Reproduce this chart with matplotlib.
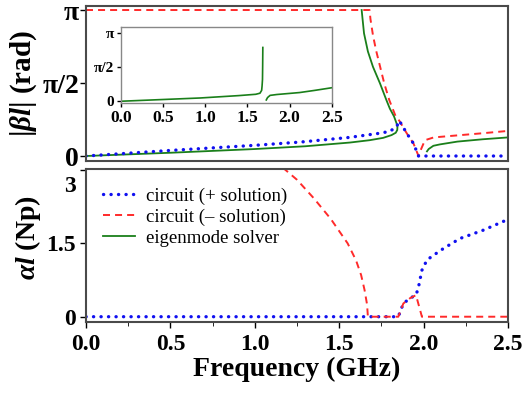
import numpy as np
import matplotlib
matplotlib.use("Agg")
import matplotlib.pyplot as plt
from matplotlib.transforms import ScaledTranslation

# ---- data ----
# top panel |beta l| (rad) vs frequency (GHz)
blue_top_f = [0.0, 0.5, 1.0, 1.27, 1.56, 1.74, 1.80, 1.84, 1.856, 1.90, 1.94, 1.97, 2.5]
blue_top_b = [0.0, 0.12, 0.23, 0.30, 0.40, 0.49, 0.53, 0.63, 0.76, 0.49, 0.27, 0.0, 0.0]

red_top_f = [0.0, 1.68, 1.685, 1.70, 1.718, 1.767, 1.797, 1.835, 1.856, 1.90, 1.94, 1.97,
             1.983, 2.008, 2.06, 2.22, 2.35, 2.5]
red_top_b = [np.pi, np.pi, 2.95, 2.6, 2.28, 1.56, 1.2, 0.85, 0.76, 0.49, 0.27, 0.0,
             0.13, 0.34, 0.40, 0.45, 0.49, 0.54]

green_f1 = [0.0, 0.5, 1.0, 1.3, 1.564, 1.68, 1.76, 1.81, 1.835, 1.844, 1.845, 1.84,
            1.825, 1.80, 1.78, 1.742, 1.70, 1.67, 1.647, 1.633]
green_b1 = [0.0, 0.07, 0.15, 0.21, 0.29, 0.34, 0.39, 0.45, 0.50, 0.56, 0.63, 0.70,
            0.85, 1.02, 1.2, 1.56, 1.92, 2.25, 2.64, np.pi]
green_f2 = [2.02, 2.03, 2.058, 2.097, 2.2, 2.35, 2.5]
green_b2 = [0.10, 0.15, 0.22, 0.25, 0.31, 0.36, 0.40]

# inset (eigenmode solver)
inset_f1 = [0.0, 0.5, 0.94, 1.4, 1.6, 1.65, 1.67, 1.675, 1.68, 1.682, 1.684]
inset_b1 = [0.0, 0.08, 0.15, 0.26, 0.32, 0.37, 0.5, 0.7, 1.0, 1.6, 2.47]
inset_f2 = [1.725, 1.74, 1.77, 1.85, 2.0, 2.12, 2.3, 2.5]
inset_b2 = [0.06, 0.17, 0.27, 0.31, 0.36, 0.40, 0.50, 0.62]

# bottom panel alpha l (Np)
blue_bot_f = [0.0, 1.85, 1.88, 1.92, 1.955, 1.97, 1.99, 2.02, 2.06, 2.12, 2.216, 2.354, 2.5]
blue_bot_a = [0.0, 0.0, 0.27, 0.38, 0.44, 0.61, 0.95, 1.16, 1.26, 1.40, 1.60, 1.77, 1.99]
red_bot_f = [1.165, 1.25, 1.35, 1.45, 1.55, 1.60, 1.63, 1.65, 1.665, 1.67, 1.85, 1.88,
             1.92, 1.955, 1.99, 2.5]
red_bot_a = [3.05, 2.80, 2.42, 2.0, 1.5, 1.15, 0.85, 0.55, 0.25, 0.0, 0.0, 0.27,
             0.38, 0.44, 0.0, 0.0]

x_ticks = [0.0, 0.5, 1.0, 1.5, 2.0, 2.5]
x_ticklabels = ["0.0", "0.5", "1.0", "1.5", "2.0", "2.5"]
phase_ticks = [0, np.pi / 2, np.pi]
phase_ticklabels = ["0", "π/2", "π"]
alpha_ticks = [0, 1.5, 3]
alpha_ticklabels = ["0", "1.5", "3"]

# ---- style ----
plt.rcParams["font.family"] = ["Liberation Serif", "DejaVu Serif"]
plt.rcParams["font.weight"] = "bold"
plt.rcParams["mathtext.fontset"] = "custom"
plt.rcParams["mathtext.rm"] = "Liberation Serif:bold"
plt.rcParams["mathtext.it"] = "Liberation Serif:italic:bold"
plt.rcParams["mathtext.bf"] = "Liberation Serif:bold"

SPINE = "#4a4a4a"
BLUE = "#1010f0"
RED = "#ff2a2a"
GREEN = "#1a7f1a"
dots = dict(color=BLUE, lw=2.4, linestyle=(0, (0.05, 2.2)), dash_capstyle="round")
dashes = dict(color=RED, lw=1.4, linestyle=(0, (3.6, 2.6)))
solid = dict(color=GREEN, lw=1.3)


def format_axes(ax, lw=1.5, color=SPINE):
    for s in ax.spines.values():
        s.set_color(color)
        s.set_linewidth(lw)
    ax.tick_params(direction="out", colors="black", width=1.0, length=4)
    for t in ax.get_xticklabels() + ax.get_yticklabels():
        t.set_fontweight("bold")


fig = plt.figure(figsize=(5.27, 3.93), dpi=100)

# ---- top panel ----
ax1 = fig.add_axes([86 / 527, 1 - 160.7 / 393, 422 / 527, 154.7 / 393])
ax1.plot(red_top_f, red_top_b, **dashes)
ax1.plot(green_f1, green_b1, **solid)
ax1.plot(green_f2, green_b2, **solid)
ax1.plot(blue_top_f, blue_top_b, **dots)
ax1.set_xlim(0, 2.5)
ax1.set_ylim(-0.101, 3.228)
ax1.set_yticks(phase_ticks)
ax1.set_yticklabels(phase_ticklabels, fontsize=20)
ax1.tick_params(axis="x", bottom=False, labelbottom=False)
format_axes(ax1)
ax1.tick_params(axis="y", pad=1)
ax1.set_ylabel(r"$|\beta l|$ (rad)", fontsize=21, fontweight="bold")
ax1.yaxis.set_label_coords(-0.112, 0.5)

# ---- inset ----
ax3 = fig.add_axes([120.7 / 527, 1 - 103 / 393, 211 / 527, 76 / 393])
ax3.plot(inset_f1, inset_b1, color=GREEN, lw=1.2)
ax3.plot(inset_f2, inset_b2, color=GREEN, lw=1.2)
ax3.set_xlim(0, 2.5)
ax3.set_ylim(-0.08, 3.41)
ax3.set_xticks(x_ticks)
ax3.set_xticklabels(x_ticklabels, fontsize=12.5)
ax3.set_yticks(phase_ticks)
ax3.set_yticklabels(phase_ticklabels, fontsize=11)
format_axes(ax3, lw=1.0, color="#888888")
ax3.tick_params(length=3, pad=2)

# ---- bottom panel ----
ax2 = fig.add_axes([86 / 527, 1 - 322 / 393, 422 / 527, 153 / 393])
ax2.plot(blue_bot_f, blue_bot_a, label="circuit (+ solution)", **dots)
ax2.plot(red_bot_f, red_bot_a, label="circuit (\u2013 solution)", **dashes)
ax2.plot([], [], label="eigenmode solver", **solid)
ax2.set_xlim(0, 2.5)
ax2.set_ylim(-0.108, 3.02)
ax2.set_xticks(x_ticks)
ax2.set_xticks(np.arange(0.25, 2.5, 0.5), minor=True)
ax2.set_xticklabels(x_ticklabels, fontsize=17)
ax2.set_yticks(alpha_ticks)
ax2.set_yticklabels(alpha_ticklabels, fontsize=17)
format_axes(ax2)
ax2.tick_params(axis="x", which="minor", direction="out", length=3)
ax2.tick_params(axis="x", pad=5)
# the "3" label sits a little below its tick in the original
lab3 = ax2.get_yticklabels()[-1]
lab3.set_transform(lab3.get_transform() + ScaledTranslation(0, -0.14, fig.dpi_scale_trans))
ax2.set_ylabel(r"$\alpha l$ (Np)", fontsize=20, fontweight="bold")
ax2.yaxis.set_label_coords(-0.102, 0.55)
ax2.set_xlabel("Frequency (GHz)", fontsize=20, fontweight="bold")
ax2.xaxis.set_label_coords(0.5, -0.225)

leg = ax2.legend(loc="upper left", bbox_to_anchor=(0.0, 0.99), frameon=False,
                 prop={"family": "Liberation Serif", "weight": "normal", "size": 13.5},
                 handlelength=1.7, handletextpad=0.6, labelspacing=0.2)

fig.savefig("out.png", dpi=100)
